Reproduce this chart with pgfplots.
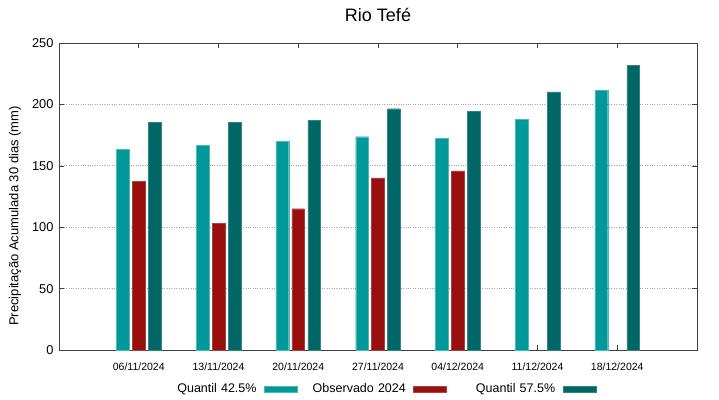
\documentclass[border=0pt]{standalone}
\usepackage{pgfplots}
\pgfplotsset{compat=1.18}
\usepackage{fontspec}
\setmainfont{Liberation Sans}
\definecolor{qlow}{HTML}{009999}
\definecolor{obs}{HTML}{990F0F}
\definecolor{qhigh}{HTML}{006666}
\begin{document}
\begin{tikzpicture}
\begin{axis}[
  name=ax,
  scale only axis,
  width=638bp, height=307bp,
  xmin=0, xmax=8, ymin=0, ymax=250,
  xtick={1,2,3,4,5,6,7},
  xticklabels={06/11/2024,13/11/2024,20/11/2024,27/11/2024,04/12/2024,11/12/2024,18/12/2024},
  ytick={0,50,100,150,200,250},
  /pgf/number format/assume math mode=true,
  xticklabel style={font=\fontsize{10.5bp}{12bp}\selectfont, yshift=-9bp},
  yticklabel style={font=\fontsize{12.8bp}{14bp}\selectfont, xshift=-2bp},
  ymajorgrids,
  major grid style={dotted, gray!70, line width=0.7pt},
  axis line style={black!75, line width=0.7pt},
  major tick style={black!75, line width=0.6pt},
  major tick length=5bp,
  tick align=inside,
  title={Rio Tefé},
  title style={font=\fontsize{18bp}{20bp}\selectfont, at={(axis description cs:0.5,1)}, anchor=center, yshift=22bp},
  ylabel={Precipitação Acumulada 30 dias (mm)},
  ylabel style={font=\fontsize{13bp}{15bp}\selectfont, at={(axis description cs:0,0.4365)}, anchor=center, yshift=44bp},
  legend columns=3,
  legend plot pos=right,
  legend cell align=right,
  legend style={draw=none, fill=none, at={(axis description cs:0.5,0)}, anchor=center, yshift=-39bp,
    font=\fontsize{12.5bp}{14bp}\selectfont,
    nodes={text width=96bp, align=right, inner xsep=0.5bp, inner ysep=2bp},
    /tikz/every odd column/.append style={column sep=7bp},
    /tikz/every even column/.append style={column sep=12bp}},
  legend image code/.code={\fill[#1] (0bp,-2.7bp) rectangle (33bp,2.7bp);},
]
\addplot[ybar, bar width=0.16, bar shift=-0.2, fill=qlow, draw=qlow!70, line width=0.3pt] coordinates {
(1,163.4) (2,166.7) (3,170.0) (4,173.7) (5,172.4) (6,188.1) (7,211.5)};
\addlegendentry{Quantil 42.5\%}
\addplot[ybar, bar width=0.16, bar shift=0, fill=obs, draw=obs!80, line width=0.3pt] coordinates {
(1,137.4) (2,103.2) (3,115.1) (4,140.1) (5,145.8)};
\addlegendentry{Observado 2024}
\addplot[ybar, bar width=0.16, bar shift=0.2, fill=qhigh, draw=qhigh!80, line width=0.3pt] coordinates {
(1,185.4) (2,185.4) (3,187.0) (4,196.5) (5,194.6) (6,210.1) (7,231.8)};
\addlegendentry{Quantil 57.5\%}
\end{axis}
\pgfresetboundingbox
\path[use as bounding box] ([xshift=-59bp,yshift=-49bp]ax.south west) rectangle ([xshift=22bp,yshift=43bp]ax.north east);
\end{tikzpicture}
\end{document}
